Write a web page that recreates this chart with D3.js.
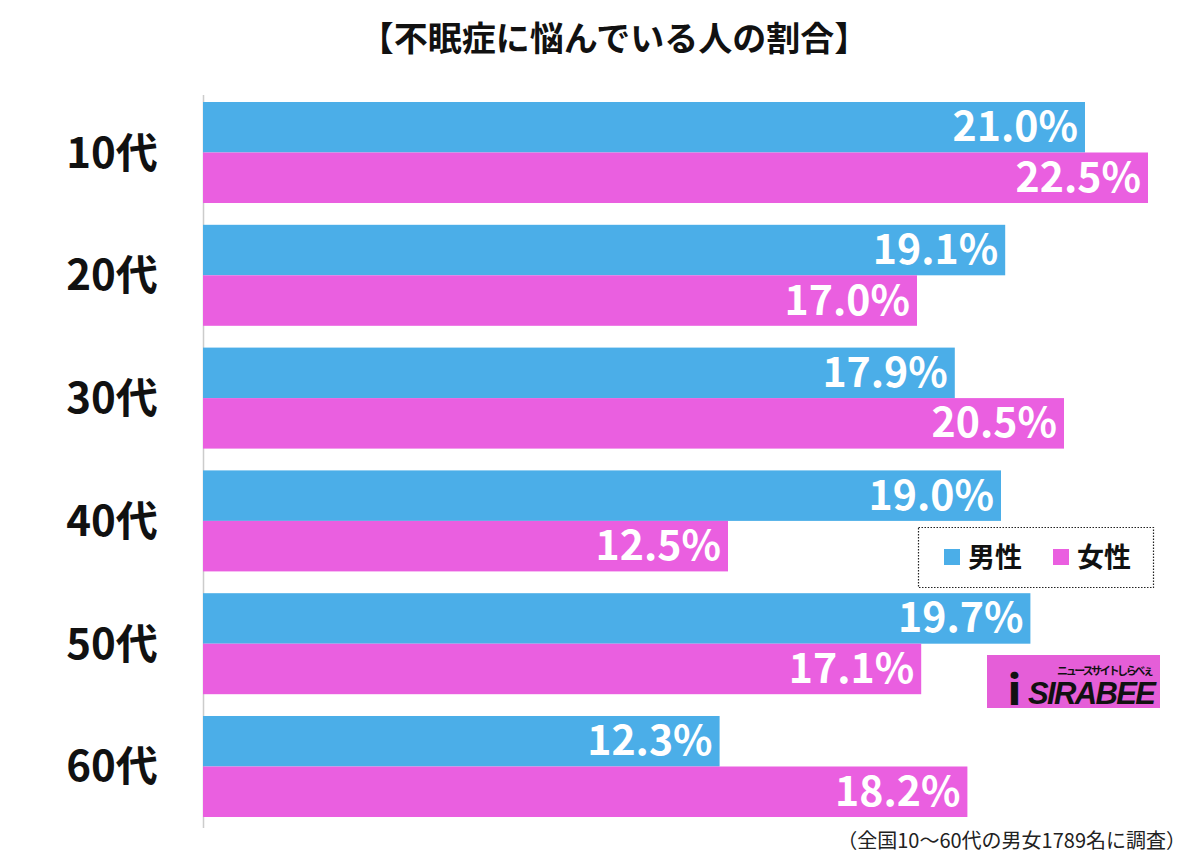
<!DOCTYPE html>
<html><head><meta charset="utf-8">
<script src="https://cdn.jsdelivr.net/npm/d3@7"></script>
<style>body{margin:0;background:#fff}</style>
</head><body>
<script>
const categories = ["10代","20代","30代","40代","50代","60代"];
const male = [21.0, 19.1, 17.9, 19.0, 19.7, 12.3];
const female = [22.5, 17.0, 20.5, 12.5, 17.1, 18.2];
const seriesNames = ["男性","女性"];
const colors = ["#4BAEE8","#EA5FE0"];

const W=1200,H=864;
const svg=d3.select("body").append("svg").attr("width",W).attr("height",H);
svg.append("rect").attr("width",W).attr("height",H).attr("fill","#fff");
const font='"Noto Sans CJK JP","Noto Sans",sans-serif';

const x=d3.scaleLinear().domain([0,22.5]).range([203,1148]);
const y=d3.scaleBand().domain(categories).range([102,817]).paddingInner(0.1775).paddingOuter(0);
const sub=d3.scaleBand().domain([0,1]).range([0,y.bandwidth()]);

svg.append("text").attr("x",614).attr("y",51).attr("text-anchor","middle")
  .attr("font-family",font).attr("font-weight",700).attr("font-size",34).attr("fill","#111")
  .text("【不眠症に悩んでいる人の割合】");

svg.append("line").attr("x1",203.5).attr("x2",203.5).attr("y1",95).attr("y2",828)
  .attr("stroke","#ccc").attr("stroke-width",1.5);

const data=[male,female];
categories.forEach((c,i)=>{
  data.forEach((arr,s)=>{
    const v=arr[i];
    const yy=y(c)+sub(s);
    svg.append("rect").attr("x",x(0)).attr("y",yy).attr("width",x(v)-x(0)).attr("height",sub.bandwidth())
      .attr("fill",colors[s]);
    svg.append("text").attr("x",x(v)-7).attr("y",yy+sub.bandwidth()/2+14)
      .attr("text-anchor","end").attr("font-family",font).attr("font-weight",700)
      .attr("font-size",41).attr("fill","#fff").text(v.toFixed(1)+"%");
  });
  svg.append("text").attr("x",112).attr("y",y(c)+y.bandwidth()/2+15).attr("text-anchor","middle")
    .attr("font-family",font).attr("font-weight",700).attr("font-size",42).attr("fill","#111").text(c);
});

// legend
const lg=svg.append("g");
lg.append("rect").attr("x",918.5).attr("y",527.5).attr("width",235).attr("height",60)
  .attr("fill","#fff").attr("stroke","#222").attr("stroke-width",1.2).attr("stroke-dasharray","1.5,1.5");
const lx=[944,1053];
seriesNames.forEach((n,s)=>{
  lg.append("rect").attr("x",lx[s]).attr("y",549).attr("width",16).attr("height",16).attr("fill",colors[s]);
  lg.append("text").attr("x",lx[s]+24).attr("y",567).attr("font-family",font).attr("font-weight",700)
    .attr("font-size",27).attr("fill","#111").text(n);
});

// logo
const lo=svg.append("g");
lo.append("rect").attr("x",987).attr("y",655).attr("width",173).attr("height",53).attr("fill","#E55ED8");
lo.append("text").attr("x",1057).attr("y",675).attr("font-family",font).attr("font-weight",700)
  .attr("font-size",11).attr("fill","#111").attr("textLength",97).text("ニュースサイトしらべぇ");
lo.append("text").attr("x",1008).attr("y",705).attr("font-family",font).attr("font-weight",900)
  .attr("font-size",40).attr("fill","#111").text("i");
lo.append("text").attr("x",1028).attr("y",704).attr("font-family","Liberation Sans, sans-serif").attr("font-weight",700)
  .attr("font-style","italic").attr("font-size",31).attr("fill","#111").attr("textLength",128).text("SIRABEE");

svg.append("text").attr("x",1186).attr("y",848).attr("text-anchor","end").attr("font-family",font)
  .attr("font-size",20).attr("fill","#222").text("（全国10〜60代の男女1789名に調査）");
</script>
</body></html>
